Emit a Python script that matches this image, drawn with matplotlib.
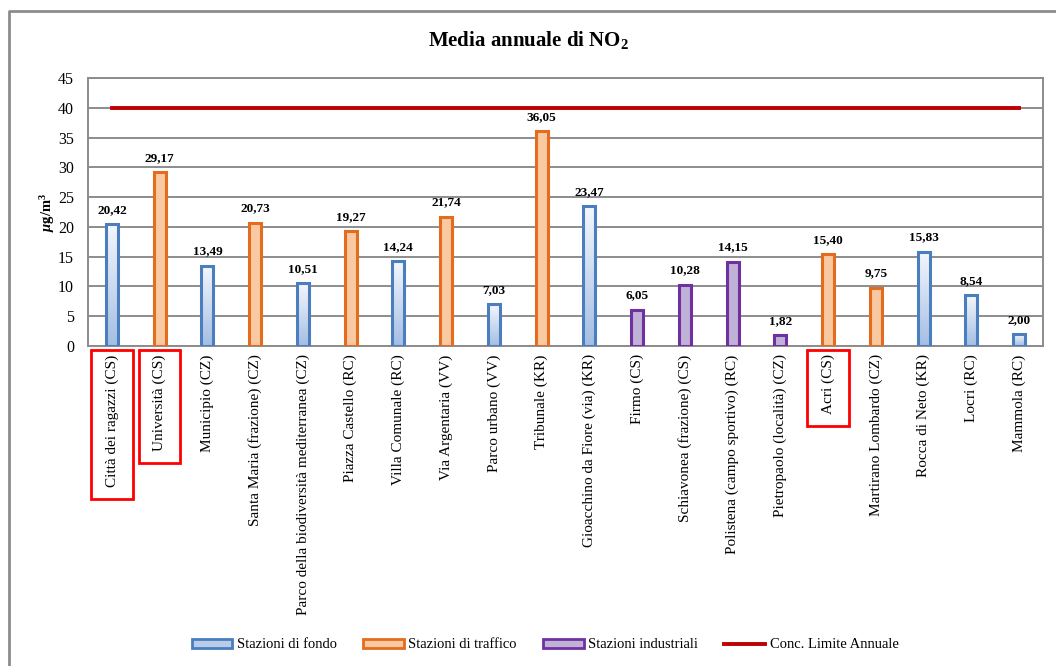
import matplotlib

matplotlib.use("Agg")

import matplotlib.pyplot as plt
import numpy as np
from matplotlib.colors import LinearSegmentedColormap
from matplotlib.lines import Line2D
from matplotlib.patches import Patch, Rectangle

STATIONS = [
    "Città dei ragazzi (CS)", "Università (CS)", "Municipio (CZ)",
    "Santa Maria (frazione) (CZ)", "Parco della biodiversità mediterranea (CZ)",
    "Piazza Castello (RC)", "Villa Comunale (RC)", "Via Argentaria (VV)",
    "Parco urbano (VV)", "Tribunale (KR)", "Gioacchino da Fiore (via) (KR)",
    "Firmo (CS)", "Schiavonea (frazione) (CS)", "Polistena (campo sportivo) (RC)",
    "Pietropaolo (località) (CZ)", "Acri (CS)", "Martirano Lombardo (CZ)",
    "Rocca di Neto (KR)", "Locri (RC)", "Mammola (RC)",
]
NO2_MEAN = [20.42, 29.17, 13.49, 20.73, 10.51, 19.27, 14.24, 21.74, 7.03, 36.05,
            23.47, 6.05, 10.28, 14.15, 1.82, 15.40, 9.75, 15.83, 8.54, 2.00]
STATION_TYPE = ["fondo", "traffico", "fondo", "traffico", "fondo", "traffico",
                "fondo", "traffico", "fondo", "traffico", "fondo", "industriali",
                "industriali", "industriali", "industriali", "traffico", "traffico",
                "fondo", "fondo", "fondo"]
ANNUAL_LIMIT = 40
HIGHLIGHTED = ["Città dei ragazzi (CS)", "Università (CS)", "Acri (CS)"]

STYLE = {
    "fondo": {"edge": "#4a7ebf", "face": "#b9cde9", "label": "Stazioni di fondo"},
    "traffico": {"edge": "#e46c1f", "face": "#f9c9a2", "label": "Stazioni di traffico"},
    "industriali": {"edge": "#7030a0", "face": "#c0b2d6", "label": "Stazioni industriali"},
}
LIMIT_COLOR = "#c00000"
GRID_COLOR = "#8c8c8c"

plt.rcParams["font.family"] = ["Liberation Serif", "DejaVu Serif"]
plt.rcParams["mathtext.fontset"] = "custom"
plt.rcParams["mathtext.rm"] = "Liberation Serif"
plt.rcParams["mathtext.it"] = "Liberation Serif:italic:bold"
plt.rcParams["mathtext.bf"] = "Liberation Serif:bold"

fig = plt.figure(figsize=(10.56, 6.66), dpi=100)
ax = fig.add_axes([88 / 1056, 1 - 346 / 666, 955 / 1056, 268 / 666])

x = np.arange(len(STATIONS))
width = 0.25
blue_grad = LinearSegmentedColormap.from_list("fondo", ["#a4bee4", "#f4f7fc"])

for xi, val, kind in zip(x, NO2_MEAN, STATION_TYPE):
    st = STYLE[kind]
    if kind == "fondo":
        # vertical gradient fill for background stations
        grad = np.linspace(0, 1, 100).reshape(-1, 1)
        ax.imshow(grad, cmap=blue_grad, origin="lower", aspect="auto",
                  extent=[xi - width / 2, xi + width / 2, 0, val], zorder=2)
        ax.bar(xi, val, width=width, facecolor="none", edgecolor=st["edge"],
               linewidth=2.2, zorder=3)
    else:
        ax.bar(xi, val, width=width, facecolor=st["face"], edgecolor=st["edge"],
               linewidth=2.2, zorder=3)
    ax.annotate(f"{val:.2f}".replace(".", ","), (xi, val), xytext=(0, 6),
                textcoords="offset points", ha="center", va="bottom",
                fontsize=9.5, fontweight="bold", zorder=4)

ax.plot(x, [ANNUAL_LIMIT] * len(x), color=LIMIT_COLOR, linewidth=2.8, zorder=4)

ax.set_xlim(-0.5, len(STATIONS) - 0.5)
ax.set_ylim(0, 45)
ax.set_yticks(range(0, 46, 5))
ax.yaxis.grid(True, color=GRID_COLOR, linewidth=1.4, zorder=0)
ax.set_axisbelow(True)
for spine in ax.spines.values():
    spine.set_color(GRID_COLOR)
    spine.set_linewidth(1.4)
ax.tick_params(axis="both", length=0, labelsize=11.5)
ax.tick_params(axis="y", pad=10)
ax.set_xticks(x)
ax.set_xticklabels(STATIONS, rotation=90, fontsize=11)
ax.tick_params(axis="x", pad=6)

ax.set_ylabel("$\\mu$g/m$^{\\mathbf{3}}$", fontsize=10.5, fontweight="bold", labelpad=1)
fig.text(0.5, 1 - 40 / 666, "Media annuale di $\\mathbf{NO_2}$", ha="center",
         va="center", fontsize=15, fontweight="bold")

handles = [Patch(facecolor=STYLE[k]["face"], edgecolor=STYLE[k]["edge"],
                 linewidth=2, label=STYLE[k]["label"])
           for k in ["fondo", "traffico", "industriali"]]
handles.append(Line2D([], [], color=LIMIT_COLOR, linewidth=2.8,
                      label="Conc. Limite Annuale"))
fig.legend(handles=handles, loc="center", bbox_to_anchor=(545 / 1056, 1 - 645 / 666),
           ncol=4, frameon=False, fontsize=10.5, handlelength=2.8,
           handleheight=0.6, columnspacing=1.8, handletextpad=0.3)

# cropped outer frame: top and left edges only
fig.add_artist(Line2D([9 / 1056, 9 / 1056, 1], [0, 1 - 11 / 666, 1 - 11 / 666],
                      transform=fig.transFigure, color=GRID_COLOR, linewidth=2))

# red boxes around the highlighted station labels
fig.canvas.draw()
renderer = fig.canvas.get_renderer()
for lbl in ax.get_xticklabels():
    if lbl.get_text() in HIGHLIGHTED:
        bb = lbl.get_window_extent(renderer)
        x0, x1 = bb.x0 - 14, bb.x1 + 14
        y0, y1 = bb.y0 - 12, bb.y1 + 4
        fig.add_artist(Rectangle((x0 / 1056, y0 / 666), (x1 - x0) / 1056,
                                 (y1 - y0) / 666, transform=fig.transFigure,
                                 fill=False, edgecolor="#ff0000", linewidth=2))

fig.savefig("out.png", dpi=100)
